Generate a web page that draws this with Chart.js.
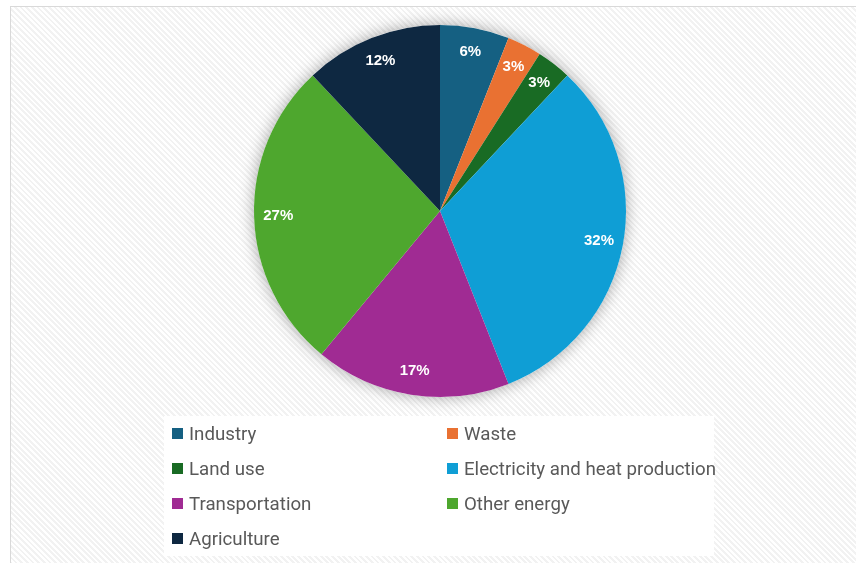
<!DOCTYPE html>
<html lang="en">
<head>
  <meta charset="UTF-8">
  <title>Emissions by Sector</title>
  <script src="https://cdn.jsdelivr.net/npm/chart.js"></script>
  <style>
    body {
      margin: 0;
      background: #fff;
    }
    #wrap {
      position: relative;
      width: 856px;
      height: 563px;
      overflow: hidden;
      background: #fff;
    }
    #frame {
      position: absolute;
      left: 10px;
      top: 6px;
      width: 900px;
      height: 600px;
      border: 1px solid #d9d9d9;
      background: repeating-linear-gradient(45deg, #ffffff 0px, #ffffff 2px, #f2f2f2 2px, #f2f2f2 4px);
    }
    #sectorChart {
      position: absolute;
      left: 0;
      top: 0;
    }
    #legend {
      position: absolute;
      left: 164px;
      top: 416px;
      width: 550px;
      height: 140px;
      background: #fff;
      display: grid;
      grid-template-columns: 275px 275px;
      grid-auto-rows: 35px;
      font-family: Roboto, "Noto Sans", sans-serif;
      font-size: 18.7px;
      color: #595959;
    }
    .item {
      display: flex;
      align-items: center;
      padding-left: 8px;
      white-space: nowrap;
    }
    .swatch {
      width: 11px;
      height: 11px;
      margin-right: 6px;
      flex: none;
    }
  </style>
</head>
<body>
  <div id="wrap">
    <div id="frame"></div>
    <canvas id="sectorChart" width="856" height="563"></canvas>
    <div id="legend"></div>
  </div>

  <script>
    const sectors = ['Industry', 'Waste', 'Land use', 'Electricity and heat production', 'Transportation', 'Other energy', 'Agriculture'];
    const shares = [6, 3, 3, 32, 17, 27, 12];
    const colors = ['#156082', '#E97132', '#196B24', '#0F9ED5', '#A02B93', '#4EA72E', '#0E2841'];

    // soft grey glow behind the whole pie
    const pieShadow = {
      id: 'pieShadow',
      beforeDatasetsDraw(chart) {
        const arc = chart.getDatasetMeta(0).data[0];
        if (!arc) return;
        const { ctx } = chart;
        ctx.save();
        ctx.shadowColor = 'rgba(0, 0, 0, 0.35)';
        ctx.shadowBlur = 16;
        ctx.fillStyle = '#ffffff';
        ctx.beginPath();
        ctx.arc(arc.x, arc.y, arc.outerRadius, 0, Math.PI * 2);
        ctx.fill();
        ctx.restore();
      }
    };

    // percentage labels near the rim of each slice
    const sliceLabels = {
      id: 'sliceLabels',
      afterDatasetsDraw(chart) {
        const { ctx } = chart;
        const meta = chart.getDatasetMeta(0);
        ctx.save();
        ctx.font = 'bold 15px "Liberation Sans", Arial, sans-serif';
        ctx.fillStyle = '#ffffff';
        ctx.textAlign = 'center';
        ctx.textBaseline = 'middle';
        meta.data.forEach((arc, i) => {
          const { x, y, startAngle, endAngle, outerRadius } = arc.getProps(['x', 'y', 'startAngle', 'endAngle', 'outerRadius'], true);
          const mid = (startAngle + endAngle) / 2;
          const r = outerRadius * 0.87;
          ctx.fillText(shares[i] + '%', x + Math.cos(mid) * r, y + Math.sin(mid) * r);
        });
        ctx.restore();
      }
    };

    const ctx = document.getElementById('sectorChart').getContext('2d');
    const chart = new Chart(ctx, {
      type: 'pie',
      data: {
        labels: sectors,
        datasets: [{
          data: shares,
          backgroundColor: colors,
          borderWidth: 0
        }]
      },
      options: {
        responsive: false,
        animation: false,
        layout: {
          padding: { left: 254, right: 230, top: 25, bottom: 166 }
        },
        plugins: {
          legend: { display: false },
          tooltip: { enabled: false }
        }
      },
      plugins: [pieShadow, sliceLabels]
    });

    // two-column legend below the pie
    const legend = document.getElementById('legend');
    sectors.forEach((name, i) => {
      const item = document.createElement('div');
      item.className = 'item';
      const sw = document.createElement('span');
      sw.className = 'swatch';
      sw.style.background = colors[i];
      item.appendChild(sw);
      item.appendChild(document.createTextNode(name));
      legend.appendChild(item);
    });
  </script>
</body>
</html>
